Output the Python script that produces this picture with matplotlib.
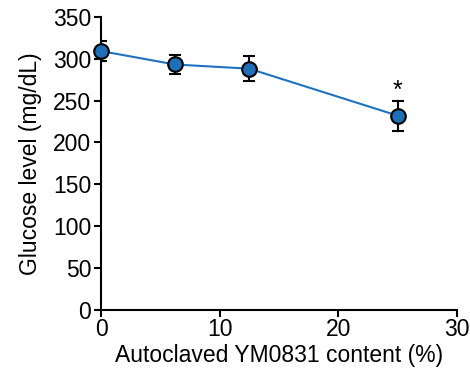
import numpy as np
import matplotlib
matplotlib.use("Agg")
import matplotlib.pyplot as plt

plt.rcParams['font.family'] = ['Liberation Sans', 'DejaVu Sans']

content = [0, 6.25, 12.5, 25]
glucose = [309, 293, 288, 232]
sem = [12, 11, 15, 18]
x_ticks = [0, 10, 20, 30]
y_ticks = [0, 50, 100, 150, 200, 250, 300, 350]

fig = plt.figure(figsize=(4.7, 3.76), dpi=100)
ax = fig.add_axes([0.215, 0.1755, 0.757, 0.78])

ax.errorbar(content, glucose, yerr=sem, fmt='none', ecolor='black',
            elinewidth=1.5, capsize=4, capthick=1.5, zorder=2)
ax.plot(content, glucose, color='#1f72c0', lw=1.5, zorder=3)
ax.plot(content, glucose, 'o', ms=10.5, mfc='#1f6fb8', mec='black',
        mew=1.5, zorder=4, clip_on=False)

# significance mark
ax.text(content[3], glucose[3] + sem[3] + 12, '*', ha='center', va='center',
        fontsize=18)

ax.set_xlim(0, 30)
ax.set_ylim(0, 350)
ax.set_xticks(x_ticks)
ax.set_yticks(y_ticks)
ax.spines['top'].set_visible(False)
ax.spines['right'].set_visible(False)
for s in ('left', 'bottom'):
    ax.spines[s].set_linewidth(1.5)
ax.tick_params(direction='out', width=1.5, length=5, labelsize=16.5, pad=2)
ax.tick_params(axis='x', pad=1)
ax.set_xlabel('Autoclaved YM0831 content (%)', fontsize=16.5, labelpad=2)
ax.set_ylabel('Glucose level (mg/dL)', fontsize=16.5, labelpad=8)

fig.savefig('out.png', dpi=100)
